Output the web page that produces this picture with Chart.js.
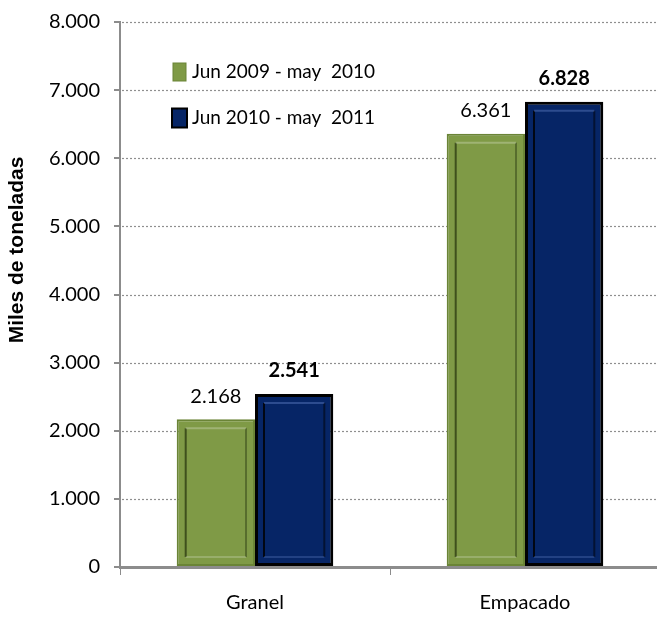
<!DOCTYPE html>
<html><head><meta charset="utf-8">
<script src="https://cdn.jsdelivr.net/npm/chart.js@4/dist/chart.umd.min.js"></script>
<style>
html,body{margin:0;padding:0;background:#fff;overflow:hidden;}
#wrap{width:670px;height:624px;}
</style></head>
<body><div id="wrap"><canvas id="c" width="670" height="624"></canvas></div>
<script>
const categories = ["Granel", "Empacado"];
const seriesNames = ["Jun 2009 - may  2010", "Jun 2010 - may  2011"];
const values2009 = [2168, 6361];
const values2010 = [2541, 6828];
const yTicks = [0, 1000, 2000, 3000, 4000, 5000, 6000, 7000, 8000];
const yTitle = "Miles de toneladas";

const FONT = "Lato, 'Open Sans', sans-serif";
function fmt(v){ return v === 0 ? "0" : String(v).replace(/\B(?=(\d{3})+(?!\d))/g, "."); }

const bevel = {
  id: 'bevel',
  afterDatasetsDraw(chart){
    const ctx = chart.ctx;
    chart.data.datasets.forEach((ds, di) => {
      chart.getDatasetMeta(di).data.forEach(bar => {
        const l = bar.x - bar.width/2, r = bar.x + bar.width/2, t = bar.y, b = bar.base;
        const ins = 9;
        ctx.save();
        ctx.lineWidth = 2;
        ctx.strokeStyle = di === 0 ? 'rgba(40,55,15,0.75)' : 'rgba(0,0,0,0.8)';
        ctx.beginPath(); ctx.moveTo(l+ins, b-ins); ctx.lineTo(l+ins, t+ins); ctx.stroke();
        ctx.strokeStyle = di === 0 ? 'rgba(40,55,15,0.45)' : 'rgba(0,0,0,0.5)';
        ctx.beginPath(); ctx.moveTo(r-ins, t+ins); ctx.lineTo(r-ins, b-ins); ctx.stroke();
        ctx.strokeStyle = di === 0 ? 'rgba(255,255,255,0.25)' : 'rgba(120,150,220,0.35)';
        ctx.beginPath(); ctx.moveTo(l+ins, t+ins); ctx.lineTo(r-ins, t+ins); ctx.stroke();
        ctx.strokeStyle = di === 0 ? 'rgba(255,255,255,0.2)' : 'rgba(120,150,220,0.25)';
        ctx.beginPath(); ctx.moveTo(l+ins, b-ins); ctx.lineTo(r-ins, b-ins); ctx.stroke();
        ctx.restore();
      });
    });
  }
};

const labelsPlugin = {
  id: 'valueLabels',
  afterDatasetsDraw(chart){
    const ctx = chart.ctx;
    chart.data.datasets.forEach((ds, di) => {
      chart.getDatasetMeta(di).data.forEach((bar, i) => {
        ctx.save();
        ctx.font = (di === 1 ? 'bold ' : '') + '20px ' + FONT;
        ctx.fillStyle = '#000';
        ctx.textAlign = 'center';
        ctx.textBaseline = 'middle';
        ctx.fillText(fmt(ds.data[i]), bar.x, bar.y - 23);
        ctx.restore();
      });
    });
  }
};

const legendPlugin = {
  id: 'innerLegend',
  afterDraw(chart){
    const ctx = chart.ctx, a = chart.chartArea;
    chart.data.datasets.forEach((ds, di) => {
      const cy = a.top + 50 + di * 46;
      const sx = a.left + 52;
      ctx.save();
      ctx.fillStyle = ds.backgroundColor;
      ctx.strokeStyle = ds.borderColor;
      ctx.lineWidth = di === 0 ? 1 : 2;
      const w = di === 0 ? 13 : 15, h = di === 0 ? 18 : 19;
      ctx.fillRect(sx + (15-w)/2, cy - h/2, w, h);
      ctx.strokeRect(sx + (15-w)/2, cy - h/2, w, h);
      ctx.font = '19px ' + FONT;
      ctx.fillStyle = '#000';
      ctx.textAlign = 'left';
      ctx.textBaseline = 'middle';
      ctx.fillText(ds.label, sx + 20, cy);
      ctx.restore();
    });
  }
};

const titlePlugin = {
  id: 'yTitle',
  afterDraw(chart){
    const ctx = chart.ctx;
    ctx.save();
    ctx.translate(17, 250);
    ctx.rotate(-Math.PI/2);
    ctx.font = "bold 21px 'Liberation Sans', Arial, sans-serif";
    ctx.fillStyle = '#000';
    ctx.textAlign = 'center';
    ctx.textBaseline = 'middle';
    ctx.fillText(yTitle, 0, 0);
    ctx.restore();
  }
};

new Chart(document.getElementById('c'), {
  type: 'bar',
  data: {
    labels: categories,
    datasets: [
      { label: seriesNames[0], data: values2009, backgroundColor: '#7f9a46', borderColor: '#6a8436', borderWidth: 2, borderSkipped: false },
      { label: seriesNames[1], data: values2010, backgroundColor: '#062566', borderColor: '#000000', borderWidth: 3, borderSkipped: false }
    ]
  },
  options: {
    responsive: false,
    animation: false,
    events: [],
    layout: { padding: { top: 22, right: 10, left: 0, bottom: 0 } },
    plugins: { legend: { display: false }, tooltip: { enabled: false } },
    datasets: { bar: { categoryPercentage: 0.58, barPercentage: 1.0 } },
    scales: {
      x: {
        grid: { display: true, drawOnChartArea: false, offset: true, color: '#8c8c8c', tickLength: 8, lineWidth: 1 },
        border: { color: '#8c8c8c', width: 3 },
        ticks: { color: '#000', font: { family: FONT, size: 20 }, padding: 16 },
        afterFit(s){ s.height = 57; }
      },
      y: {
        min: 0, max: 8000,
        afterBuildTicks(s){ s.ticks = yTicks.map(v => ({ value: v })); },
        grid: { drawOnChartArea: false, color: '#8c8c8c', tickLength: 6, lineWidth: 2 },
        border: { color: '#8c8c8c', width: 2 },
        ticks: { color: '#000', font: { family: FONT, size: 20, lineHeight: 1 }, padding: 14, callback: v => fmt(v) },
        title: { display: false },
        afterFit(s){ s.width = 120; s.paddingTop = 0; s.paddingBottom = 0; }
      }
    }
  },
  plugins: [{
    id: 'dotGrid',
    beforeDatasetsDraw(chart){
      const ctx = chart.ctx, a = chart.chartArea, y = chart.scales.y;
      ctx.save();
      ctx.strokeStyle = '#8f8f8f';
      ctx.lineWidth = 1.2;
      ctx.setLineDash([2, 2]);
      yTicks.forEach(v => {
        if (v === 0) return;
        const py = Math.round(y.getPixelForValue(v)) + 0.5;
        ctx.beginPath(); ctx.moveTo(a.left + 2, py); ctx.lineTo(a.right, py); ctx.stroke();
      });
      ctx.restore();
    }
  }, bevel, labelsPlugin, legendPlugin, titlePlugin]
});
</script>
</body></html>
